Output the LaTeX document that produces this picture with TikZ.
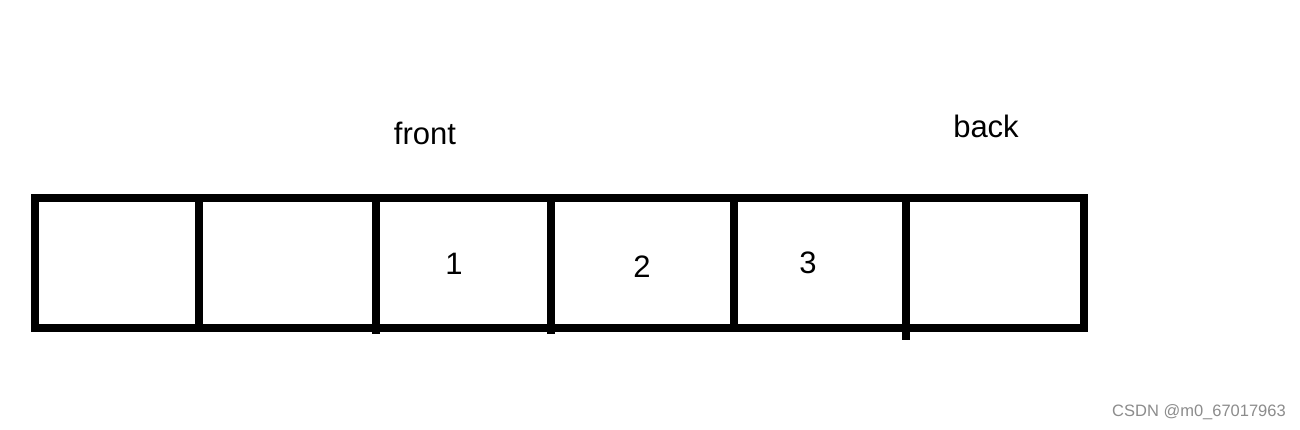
\documentclass[tikz,border=0pt]{standalone}
\usepackage{fontspec}
\setmainfont{Liberation Sans}
\begin{document}
\begin{tikzpicture}[x=1pt,y=-1pt,
  cellline/.style={line width=8pt, line cap=butt},
  lbl/.style={font=\fontsize{31}{36}\selectfont, inner sep=0pt},
  wm/.style={font=\fontsize{16.5}{20}\selectfont, text=black!45, inner sep=0pt, anchor=east}]
\useasboundingbox (0,0) rectangle (1300,430);
\fill[white] (0,0) rectangle (1300,430);
% outer frame
\coordinate (tl) at (35,198);
\coordinate (br) at (1084,328);
\draw[cellline] (tl) rectangle (br);
% dividers
\coordinate (d1t) at (199,198); \coordinate (d1b) at (199,328);
\coordinate (d2t) at (375.5,198); \coordinate (d2b) at (375.5,334);
\coordinate (d3t) at (551,198); \coordinate (d3b) at (551,334);
\coordinate (d4t) at (734,198); \coordinate (d4b) at (734,328);
\coordinate (d5t) at (906,198); \coordinate (d5b) at (906,340);
\draw[cellline] (d1t) -- (d1b);
\draw[cellline] (d2t) -- (d2b);
\draw[cellline] (d3t) -- (d3b);
\draw[cellline] (d4t) -- (d4b);
\draw[cellline] (d5t) -- (d5b);
% labels
\node[lbl] (front) at (425,133) {front};
\node[lbl] (back) at (986,126) {back};
\node[lbl] (one) at (454,264) {1};
\node[lbl] (two) at (642,267) {2};
\node[lbl] (three) at (808,263) {3};
\node[wm] (mark) at (1286,412) {CSDN @m0\_67017963};
\end{tikzpicture}
\end{document}
